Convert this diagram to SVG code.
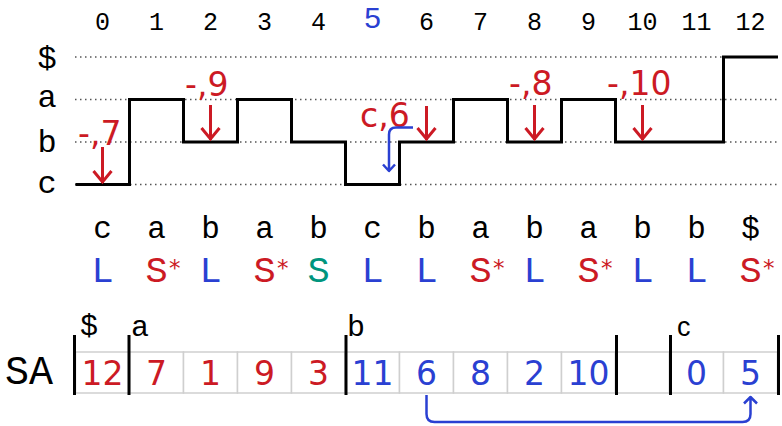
<svg xmlns="http://www.w3.org/2000/svg" width="782" height="426" viewBox="0 0 782 426">
<style>
.mono{font-family:'Liberation Mono','Courier New',monospace;fill:#000}
.num{font-family:'DejaVu Sans',Verdana,sans-serif}
.idx{font-family:'Liberation Mono','Courier New',monospace;font-size:25px;fill:#000;text-anchor:middle}
.red{fill:#cc1a24}
.blue{fill:#2a40d2}
.green{fill:#00957e}
.lbl{font-size:33px}
.dot{stroke:#555;stroke-width:1.3;stroke-dasharray:1.5 3.5;fill:none}
.step{stroke:#000;stroke-width:3;fill:none}
.rarr{stroke:#cc1a24;stroke-width:3;fill:none}
.barr{stroke:#2a40d2;stroke-width:2.5;fill:none;stroke-linejoin:round}
.cell{fill:#fff;stroke:#cfcfcf;stroke-width:1.5}
.bar{stroke:#000;stroke-width:3}
.let{font-size:31px;text-anchor:middle}
.typ{font-size:37px;text-anchor:middle}
.star{font-family:'DejaVu Sans',sans-serif;font-size:23px;text-anchor:start}
.sa{font-size:33px;text-anchor:middle}
</style>

<g id="index-row">
<text class="idx" x="102.5" y="30">0</text>
<text class="idx" x="156.5" y="30">1</text>
<text class="idx" x="210.5" y="30">2</text>
<text class="idx" x="264.5" y="30">3</text>
<text class="idx" x="318.5" y="30">4</text>
<text class="blue" x="372.5" y="28" font-family="'Liberation Sans',Arial,sans-serif" font-size="30" text-anchor="middle">5</text>
<text class="idx" x="426.5" y="30">6</text>
<text class="idx" x="480.5" y="30">7</text>
<text class="idx" x="534.5" y="30">8</text>
<text class="idx" x="588.5" y="30">9</text>
<text class="idx" x="642.5" y="30">10</text>
<text class="idx" x="696.5" y="30">11</text>
<text class="idx" x="750.5" y="30">12</text>
</g>

<g id="level-labels" class="mono" font-size="32" text-anchor="middle">
<text x="47" y="68">$</text>
<text x="47" y="107">a</text>
<text x="47" y="152">b</text>
<text x="47" y="193">c</text>
</g>

<g id="grid">
<line class="dot" x1="75" y1="57" x2="778" y2="57"/>
<line class="dot" x1="75" y1="99.5" x2="778" y2="99.5"/>
<line class="dot" x1="75" y1="142" x2="778" y2="142"/>
<line class="dot" x1="75" y1="184.5" x2="778" y2="184.5"/>
</g>

<g id="step-function">
<path class="step" d="M75.5,184.5 H129.5 V99.5 H183.5 V142 H237.5 V99.5 H291.5 V142 H345.5 V184.5 H399.5 V142 H453.5 V99.5 H507.5 V142 H561.5 V99.5 H615.5 V142 H723.5 V57 H778"/>
</g>

<g id="induced-labels" class="num red lbl">
<text x="78" y="145">-,7</text>
<text x="185" y="96">-,9</text>
<text x="360" y="127">c,6</text>
<text x="509" y="95">-,8</text>
<text x="607" y="95">-,10</text>
</g>

<g id="connectors">
<path class="rarr" d="M102.5,147 V183 M93.5,171 L102.5,182 L111.5,171"/>
<path class="rarr" d="M210.5,105 V140 M201.5,128 L210.5,139 L219.5,128"/>
<path class="rarr" d="M426.5,106 V140 M417.5,128 L426.5,139 L435.5,128"/>
<path class="rarr" d="M534.5,105 V140 M525.5,128 L534.5,139 L543.5,128"/>
<path class="rarr" d="M642.5,105 V140 M633.5,128 L642.5,139 L651.5,128"/>
<path class="barr" d="M413,127.5 H396 Q389,127.5 389,134.5 V171 M383,164.5 L389,171 L395,164.5"/>
<path class="barr" d="M426.5,395 V414 Q426.5,422 434.5,422 H742.5 Q750.5,422 750.5,414 V397.5 M744,403.5 L750.5,397 L757,403.5"/>
</g>

<g id="string-row" class="mono let">
<text x="102.5" y="238">c</text>
<text x="156.5" y="238">a</text>
<text x="210.5" y="238">b</text>
<text x="264.5" y="238">a</text>
<text x="318.5" y="238">b</text>
<text x="372.5" y="238">c</text>
<text x="426.5" y="238">b</text>
<text x="480.5" y="238">a</text>
<text x="534.5" y="238">b</text>
<text x="588.5" y="238">a</text>
<text x="642.5" y="238">b</text>
<text x="696.5" y="238">b</text>
<text x="750.5" y="238">$</text>
</g>

<g id="type-row" class="mono typ">
<text class="blue" x="102.5" y="282">L</text>
<text class="red" x="156.5" y="282">S</text><text class="red star" x="169" y="276">*</text>
<text class="blue" x="210.5" y="282">L</text>
<text class="red" x="264.5" y="282">S</text><text class="red star" x="277" y="276">*</text>
<text class="green" x="318.5" y="282">S</text>
<text class="blue" x="372.5" y="282">L</text>
<text class="blue" x="426.5" y="282">L</text>
<text class="red" x="480.5" y="282">S</text><text class="red star" x="493" y="276">*</text>
<text class="blue" x="534.5" y="282">L</text>
<text class="red" x="588.5" y="282">S</text><text class="red star" x="601" y="276">*</text>
<text class="blue" x="642.5" y="282">L</text>
<text class="blue" x="696.5" y="282">L</text>
<text class="red" x="750.5" y="282">S</text><text class="red star" x="763" y="276">*</text>
</g>

<g id="sa-array">
<text class="mono" x="5" y="384" font-size="40">SA</text>
<rect class="cell" x="75.5" y="352" width="54" height="41"/>
<rect class="cell" x="129.5" y="352" width="54" height="41"/>
<rect class="cell" x="183.5" y="352" width="54" height="41"/>
<rect class="cell" x="237.5" y="352" width="54" height="41"/>
<rect class="cell" x="291.5" y="352" width="54" height="41"/>
<rect class="cell" x="345.5" y="352" width="54" height="41"/>
<rect class="cell" x="399.5" y="352" width="54" height="41"/>
<rect class="cell" x="453.5" y="352" width="54" height="41"/>
<rect class="cell" x="507.5" y="352" width="54" height="41"/>
<rect class="cell" x="561.5" y="352" width="54" height="41"/>
<rect class="cell" x="615.5" y="352" width="54" height="41"/>
<rect class="cell" x="669.5" y="352" width="54" height="41"/>
<rect class="cell" x="723.5" y="352" width="54" height="41"/>
<line class="bar" x1="74.5" y1="335" x2="74.5" y2="395"/>
<line class="bar" x1="129" y1="335" x2="129" y2="395"/>
<line class="bar" x1="346" y1="335" x2="346" y2="395"/>
<line class="bar" x1="616.5" y1="335" x2="616.5" y2="395"/>
<line class="bar" x1="670.5" y1="335" x2="670.5" y2="395"/>
<line class="bar" x1="778.5" y1="335" x2="778.5" y2="395"/>
<g class="mono" font-size="30">
<text x="80" y="335">$</text>
<text x="131" y="336">a</text>
<text x="347" y="336">b</text>
</g>
<text x="677" y="336" font-family="'Liberation Sans',Arial,sans-serif" font-size="27">c</text>
<g class="num sa">
<text class="red" x="102.5" y="385">12</text>
<text class="red" x="156.5" y="385">7</text>
<text class="red" x="210.5" y="385">1</text>
<text class="red" x="264.5" y="385">9</text>
<text class="red" x="318.5" y="385">3</text>
<text class="blue" x="372.5" y="385">11</text>
<text class="blue" x="426.5" y="385">6</text>
<text class="blue" x="480.5" y="385">8</text>
<text class="blue" x="534.5" y="385">2</text>
<text class="blue" x="588.5" y="385">10</text>
<text class="blue" x="696.5" y="385">0</text>
<text class="blue" x="750.5" y="385">5</text>
</g>
</g>
</svg>
